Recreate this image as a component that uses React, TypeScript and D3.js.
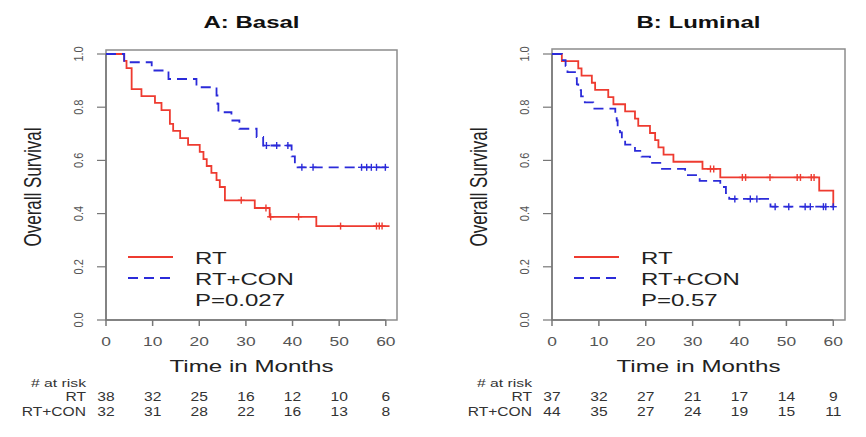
import React from 'react';
import * as d3 from 'd3';

// ---------- Data ----------
const xTicks = [0, 10, 20, 30, 40, 50, 60];
const yTicks = [0, 0.2, 0.4, 0.6, 0.8, 1.0];
const yTickLabels = ['0.0', '0.2', '0.4', '0.6', '0.8', '1.0'];
const groupNames = ['RT', 'RT+CON'];

// Panel A: Basal
const basalRtTimes = [3.9, 4.4, 5.5, 7.6, 10.5, 11.9, 13.7, 14.4, 15.9, 17.6, 20.1, 20.9, 21.6, 22.6, 23.7, 24.4, 25.5, 31.9, 35.1, 45.1];
const basalRtSurv = [0.974, 0.947, 0.868, 0.842, 0.816, 0.789, 0.737, 0.711, 0.684, 0.658, 0.632, 0.605, 0.579, 0.553, 0.526, 0.5, 0.45, 0.421, 0.388, 0.353];
const basalRtCensor = [29.0, 34.3, 35.3, 41.3, 50.3, 58.0, 58.6, 59.2];
const basalRtEnd = 60.8;

const basalConTimes = [3.9, 9.8, 13.4, 19.4, 23.7, 23.9, 24.1, 26.9, 28.6, 32.3, 33.7, 39.8, 40.5];
const basalConSurv = [0.969, 0.938, 0.906, 0.875, 0.844, 0.813, 0.781, 0.75, 0.719, 0.688, 0.656, 0.615, 0.574];
const basalConCensor = [34.4, 36.6, 39.0, 42.0, 44.4, 54.8, 55.9, 56.9, 58.0, 59.9];
const basalConEnd = 60.8;

const basalRiskRt = [38, 32, 25, 16, 12, 10, 6];
const basalRiskCon = [32, 31, 28, 22, 16, 13, 8];

// Panel B: Luminal
const luminalRtTimes = [2.1, 5.6, 6.3, 8.5, 9.2, 12.0, 13.1, 15.6, 17.7, 18.4, 20.9, 22.0, 22.7, 23.8, 25.9, 32.1, 35.9, 57.0, 60.0];
const luminalRtSurv = [0.973, 0.946, 0.919, 0.892, 0.865, 0.838, 0.811, 0.784, 0.757, 0.73, 0.703, 0.676, 0.649, 0.622, 0.595, 0.568, 0.536, 0.486, 0.426];
const luminalRtCensor = [33.8, 34.5, 40.6, 41.3, 46.5, 52.3, 53.0, 55.3, 55.9];
const luminalRtEnd = 60.0;

const luminalConTimes = [2.1, 2.9, 3.3, 4.9, 5.3, 5.6, 6.2, 7.0, 8.8, 13.5, 13.8, 14.0, 14.5, 14.9, 15.6, 17.7, 19.1, 20.9, 23.1, 28.4, 31.5, 35.9, 37.1, 37.8, 46.6];
const luminalConSurv = [0.977, 0.955, 0.932, 0.909, 0.886, 0.864, 0.841, 0.818, 0.795, 0.773, 0.75, 0.727, 0.705, 0.682, 0.659, 0.636, 0.614, 0.591, 0.568, 0.545, 0.523, 0.5, 0.477, 0.455, 0.426];
const luminalConCensor = [39.0, 42.3, 43.7, 47.6, 50.5, 54.0, 55.1, 57.9, 58.4, 60.0];
const luminalConEnd = 60.2;

const luminalRiskRt = [37, 32, 27, 21, 17, 14, 9];
const luminalRiskCon = [44, 35, 27, 24, 19, 15, 11];

// ---------- Styling ----------
const RED = '#ee3b30';
const BLUE = '#2b2bd9';
const FONT = '"Liberation Sans", Arial, Helvetica, sans-serif';
const DASH = '10 6';

type Series = { times: number[]; surv: number[]; censor: number[]; end: number };
type PanelDef = {
  title: string;
  pval: string;
  left: number;
  right: number;
  top: number;
  xMax: number;
  rt: Series;
  con: Series;
  riskRt: number[];
  riskCon: number[];
};

const panels: PanelDef[] = [
  {
    title: 'A: Basal',
    pval: 'P=0.027',
    left: 106,
    right: 397,
    top: 50,
    xMax: 62.4,
    rt: { times: basalRtTimes, surv: basalRtSurv, censor: basalRtCensor, end: basalRtEnd },
    con: { times: basalConTimes, surv: basalConSurv, censor: basalConCensor, end: basalConEnd },
    riskRt: basalRiskRt,
    riskCon: basalRiskCon,
  },
  {
    title: 'B: Luminal',
    pval: 'P=0.57',
    left: 552,
    right: 845,
    top: 49,
    xMax: 62.5,
    rt: { times: luminalRtTimes, surv: luminalRtSurv, censor: luminalRtCensor, end: luminalRtEnd },
    con: { times: luminalConTimes, surv: luminalConSurv, censor: luminalConCensor, end: luminalConEnd },
    riskRt: luminalRiskRt,
    riskCon: luminalRiskCon,
  },
];

const Y0 = 320;
const Y1 = 54;

function SText(props: {
  x: number;
  y: number;
  sx?: number;
  rotate?: number;
  size: number;
  anchor?: 'start' | 'middle' | 'end';
  weight?: string | number;
  fill?: string;
  dy?: string;
  children: React.ReactNode;
}) {
  const { x, y, sx = 1, rotate = 0, size, anchor = 'start', weight = 'normal', fill = '#222', dy, children } = props;
  return (
    <text
      transform={`translate(${x},${y}) scale(${sx},1)${rotate ? ` rotate(${rotate})` : ''}`}
      fontFamily={FONT}
      fontSize={size}
      fontWeight={weight}
      textAnchor={anchor}
      fill={fill}
      dy={dy}
    >
      {children}
    </text>
  );
}

function survAt(s: Series, t: number): number {
  const i = d3.bisectRight(s.times, t);
  return i === 0 ? 1 : s.surv[i - 1];
}

function Curve({ s, x, y, color, dash }: { s: Series; x: d3.ScaleLinear<number, number>; y: d3.ScaleLinear<number, number>; color: string; dash?: string }) {
  const pts: [number, number][] = [[0, 1], ...s.times.map((t, i) => [t, s.surv[i]] as [number, number])];
  pts.push([s.end, s.surv[s.surv.length - 1]]);
  const line = d3
    .line<[number, number]>()
    .x((d) => x(d[0]))
    .y((d) => y(d[1]))
    .curve(d3.curveStepAfter);
  return (
    <g>
      <path d={line(pts) || ''} fill="none" stroke={color} strokeWidth={1.8} strokeDasharray={dash} />
      {s.censor.map((t, i) => {
        const cx = x(t);
        const cy = y(survAt(s, t));
        return (
          <g key={i} stroke={color} strokeWidth={1.4}>
            <line x1={cx} x2={cx} y1={cy - 3.5} y2={cy + 3.5} />
            <line x1={cx - 3.5} x2={cx + 3.5} y1={cy} y2={cy} />
          </g>
        );
      })}
    </g>
  );
}

function Panel({ p }: { p: PanelDef }) {
  const x = d3.scaleLinear().domain([0, p.xMax]).range([p.left, p.right]);
  const y = d3.scaleLinear().domain([0, 1]).range([Y0, Y1]);
  const cx = (p.left + p.right) / 2;
  const axisColor = '#777';
  return (
    <g>
      <SText x={cx} y={28} sx={1.5} size={16} anchor="middle" weight="bold" fill="#111">
        {p.title}
      </SText>
      {/* box */}
      <rect x={p.left} y={p.top} width={p.right - p.left} height={Y0 - p.top} fill="none" stroke="#8c8c8c" strokeWidth={1.5} />
      {/* x axis */}
      <line x1={x(0)} x2={x(60)} y1={Y0} y2={Y0} stroke={axisColor} strokeWidth={1.3} />
      {xTicks.map((t) => (
        <g key={t}>
          <line x1={x(t)} x2={x(t)} y1={Y0} y2={Y0 + 6} stroke={axisColor} strokeWidth={1.5} />
          <SText x={x(t)} y={346} sx={1.45} size={12} anchor="middle" fill="#555">
            {t}
          </SText>
        </g>
      ))}
      {/* y axis */}
      <line x1={p.left} x2={p.left} y1={y(0)} y2={y(1)} stroke={axisColor} strokeWidth={1.5} />
      {yTicks.map((v, i) => (
        <g key={v}>
          <line x1={p.left - 9} x2={p.left} y1={y(v)} y2={y(v)} stroke={axisColor} strokeWidth={1.2} />
          <SText x={p.left - 28} y={y(v)} sx={1.2} rotate={-90} size={11} anchor="middle" fill="#555" dy="0.35em">
            {yTickLabels[i]}
          </SText>
        </g>
      ))}
      <SText x={p.left - 74} y={(Y0 + Y1) / 2} sx={1.45} rotate={-90} size={17} anchor="middle" fill="#222" dy="0.35em">
        Overall Survival
      </SText>
      <SText x={cx} y={372} sx={1.42} size={17} anchor="middle" fill="#222">
        Time in Months
      </SText>

      {/* curves */}
      <Curve s={p.rt} x={x} y={y} color={RED} />
      <Curve s={p.con} x={x} y={y} color={BLUE} dash={DASH} />

      {/* legend */}
      <line x1={p.left + 22} x2={p.left + 67} y1={257} y2={257} stroke={RED} strokeWidth={1.8} />
      <line x1={p.left + 22} x2={p.left + 67} y1={278} y2={278} stroke={BLUE} strokeWidth={1.8} strokeDasharray={DASH} />
      <SText x={p.left + 89} y={264} sx={1.5} size={16} fill="#222">
        {groupNames[0]}
      </SText>
      <SText x={p.left + 89} y={285} sx={1.5} size={16} fill="#222">
        {groupNames[1]}
      </SText>
      <SText x={p.left + 89} y={306} sx={1.5} size={16} fill="#222">
        {p.pval}
      </SText>

      {/* at risk table */}
      <SText x={p.left - 20} y={387} sx={1.5} size={10.5} anchor="end" fill="#333">
        # at risk
      </SText>
      <SText x={p.left - 20} y={401} sx={1.3} size={12} anchor="end" fill="#333">
        {groupNames[0]}
      </SText>
      <SText x={p.left - 20} y={416} sx={1.3} size={12} anchor="end" fill="#333">
        {groupNames[1]}
      </SText>
      {xTicks.map((t, i) => (
        <g key={'r' + t}>
          <SText x={x(t)} y={401} sx={1.3} size={12} anchor="middle" fill="#333">
            {p.riskRt[i]}
          </SText>
          <SText x={x(t)} y={416} sx={1.3} size={12} anchor="middle" fill="#333">
            {p.riskCon[i]}
          </SText>
        </g>
      ))}
    </g>
  );
}

export default function App() {
  return (
    <svg
      width={866}
      height={437}
      viewBox="0 0 866 437"
      style={{ position: 'absolute', left: 0, top: 0, background: '#fff' }}
    >
      <rect x={0} y={0} width={866} height={437} fill="#fff" />
      {panels.map((p) => (
        <Panel key={p.title} p={p} />
      ))}
    </svg>
  );
}
